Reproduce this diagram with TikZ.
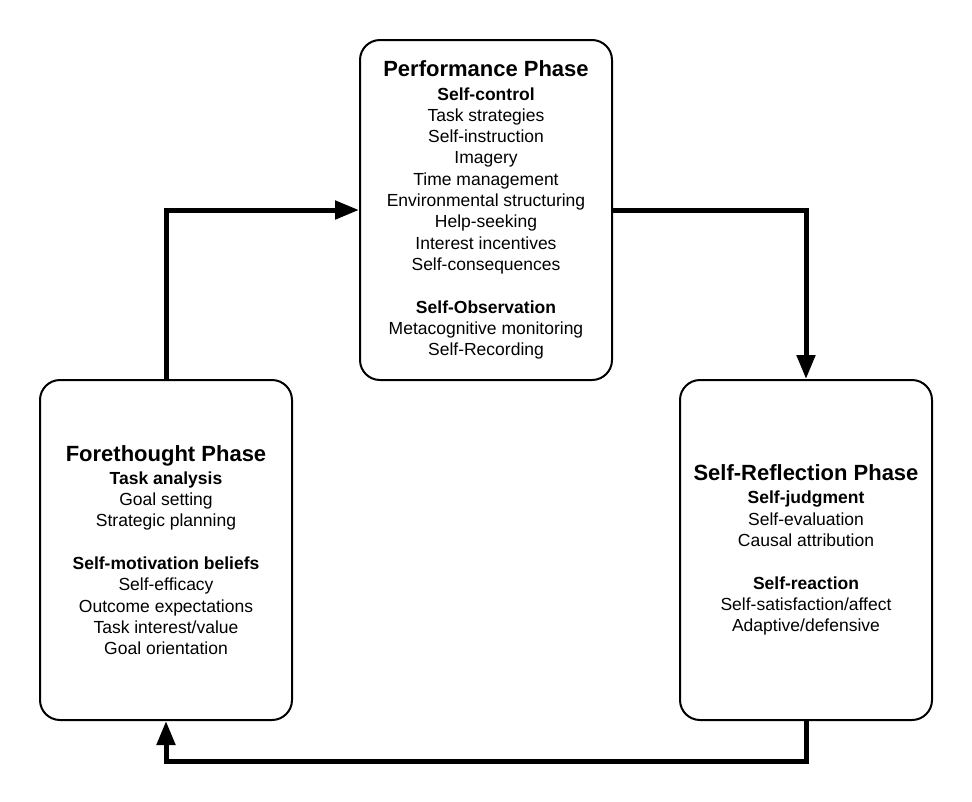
\documentclass[tikz,border=0pt]{standalone}
\usepackage{fontspec}
\setmainfont{Liberation Sans}
\usetikzlibrary{arrows.meta}

\begin{document}
\begin{tikzpicture}[x=1pt,y=-1pt,
    phase/.style={rectangle,rounded corners=20pt,draw,line width=2pt,
      minimum width=252pt,minimum height=340pt,inner sep=0pt,align=center,
      font=\fontsize{17.5}{21.3}\selectfont},
    flow/.style={line width=5pt,-{Triangle[length=24pt,width=18pt]}}]
    \useasboundingbox (0,0) rectangle (972,801);
    \node (perf) at(486,210) [phase] {{\fontsize{22}{26}\selectfont\bfseries Performance Phase}\\[2pt]
        \textbf{Self-control}\\ Task strategies\\ Self-instruction\\ Imagery\\
        Time management\\ Environmental structuring\\ Help-seeking\\
        Interest incentives\\ Self-consequences\\[21.3pt]
        \textbf{Self-Observation}\\ Metacognitive monitoring\\ Self-Recording};
    \node (fore) at(166,550) [phase] {{\fontsize{22}{26}\selectfont\bfseries Forethought Phase}\\[2pt]
        \textbf{Task analysis}\\ Goal setting\\ Strategic planning\\[21.3pt]
        \textbf{Self-motivation beliefs}\\ Self-efficacy\\ Outcome expectations\\
        Task interest/value\\ Goal orientation};
    \node (refl) at(806,550) [phase] {{\fontsize{22}{26}\selectfont\bfseries Self-Reflection Phase}\\[2pt]
        \textbf{Self-judgment}\\ Self-evaluation\\ Causal attribution\\[21.3pt]
        \textbf{Self-reaction}\\ Self-satisfaction/affect\\ Adaptive/defensive};
    \draw[flow] (fore.north) |- (perf.west);
    \draw[flow] (perf.east) -| (refl.north);
    \draw[flow] (refl.south) -- ++(0,40) -| (fore.south);
\end{tikzpicture}
\end{document}
